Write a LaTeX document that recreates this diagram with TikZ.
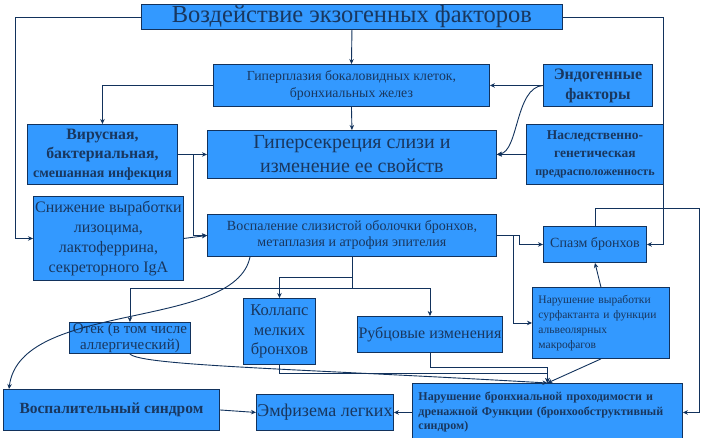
\documentclass[tikz,border=0pt]{standalone}
\usepackage{fontspec}
\setmainfont{Liberation Serif}
\usetikzlibrary{arrows.meta, calc}

\begin{document}
\begin{tikzpicture}[x=1pt, y=-1pt,
    box/.style={draw=navy, fill=boxblue, text=inknavy, line width=0.9pt, inner sep=0.5pt, align=center, anchor=north west},
    link/.style={navy, line width=0.9pt},
    arr/.style={link, -{Stealth[length=5pt, width=4.5pt]}}]

% Define colors - matching the reference image
\definecolor{boxblue}{RGB}{51,153,255}
\definecolor{navy}{RGB}{18,50,92}
\definecolor{inknavy}{RGB}{25,55,95}

\useasboundingbox (0,0) rectangle (703,437);

% Top row: exogenous factors and hyperplasia
\node[box, minimum width=421pt, minimum height=25pt, font=\fontsize{24.5}{26}\selectfont] (exo) at (141,4) {Воздействие экзогенных факторов};
\node[box, minimum width=276pt, minimum height=42pt, font=\fontsize{13.8}{16.5}\selectfont] (hyperpl) at (213,64) {Гиперплазия бокаловидных клеток,\\ бронхиальных желез};
\node[box, minimum width=109pt, minimum height=42pt, font=\bfseries\fontsize{16}{20}\selectfont] (endo) at (543,64) {Эндогенные\\ факторы};

% Second row: infection, hypersecretion, heredity
\node[box, minimum width=150pt, minimum height=60pt, font=\bfseries\fontsize{15.8}{19}\selectfont] (infect) at (27,124) {Вирусная,\\ бактериальная,\\ {\fontsize{14}{17}\selectfont смешанная инфекция}};
\node[box, minimum width=289pt, minimum height=48pt, font=\fontsize{20}{24}\selectfont] (hypersec) at (207,130) {Гиперсекреция слизи и\\ изменение ее свойств};
\node[box, minimum width=137pt, minimum height=60pt, font=\bfseries\fontsize{13.5}{18}\selectfont] (hered) at (526,124) {Наследственно-\\ генетическая\\ {\fontsize{12}{16}\selectfont предрасположенность}};

% Third row: lysozyme, inflammation, spasm
\node[box, minimum width=150pt, minimum height=84pt, font=\fontsize{16}{20}\selectfont] (lyso) at (33,196) {Снижение выработки\\ лизоцима,\\ лактоферрина,\\ секреторного IgA};
\node[box, minimum width=289pt, minimum height=42pt, font=\fontsize{14}{16}\selectfont] (inflam) at (207,214) {Воспаление слизистой оболочки бронхов,\\ метаплазия и атрофия эпителия};
\node[box, minimum width=103pt, minimum height=36pt, font=\fontsize{14}{17}\selectfont] (spasm) at (543,226) {Спазм бронхов};
\node[box, minimum width=137pt, minimum height=71pt, text width=125pt, inner xsep=6pt, align=left, font=\fontsize{11.5}{15}\selectfont] (surf) at (532,287) {Нарушение выработки\\ сурфактанта и функции\\ альвеолярных\\ макрофагов};

% Fourth row: edema, collapse, scars
\node[box, minimum width=121pt, minimum height=31pt, font=\fontsize{15}{16}\selectfont] (edema) at (69,322) {Отек (в том числе\\ аллергический)};
\node[box, minimum width=72pt, minimum height=66pt, font=\fontsize{16.5}{19.5}\selectfont] (collapse) at (243,298) {Коллапс\\ мелких\\ бронхов};
\node[box, minimum width=145pt, minimum height=36pt, font=\fontsize{16}{19}\selectfont] (scar) at (357,316) {Рубцовые изменения};

% Bottom row: outcomes
\node[box, minimum width=216pt, minimum height=41pt, font=\bfseries\fontsize{15.5}{19}\selectfont] (inflsyn) at (3,389) {Воспалительный синдром};
\node[box, minimum width=137pt, minimum height=36pt, font=\fontsize{18}{21}\selectfont] (emph) at (256,394) {Эмфизема легких};
\node[box, minimum width=270pt, minimum height=58pt, text width=258pt, inner xsep=6pt, align=left, font=\bfseries\fontsize{12}{14.5}\selectfont] (obstr) at (412,383) {Нарушение бронхиальной проходимости и\\ дренажной Функции (бронхообструктивный\\ синдром)};

% Connectors from the top
\draw[arr] (exo.south) -- (hyperpl.north);
\draw[arr] (hyperpl.south) -- (hypersec.north);
\draw[arr] (exo.west) -- ++(-126,0) |- (lyso.west);
\draw[arr] (exo.east) -- ++(101,0) |- (spasm.east);
\draw[arr] (hyperpl.west) -| (infect.north);
\draw[arr] (endo.west) -- (hyperpl.east);
\draw[arr] (endo.west) .. controls +(-28,2) and +(22,-3) .. (hypersec.east);
\draw[arr] (hered.west) -- (hypersec.east);
\draw[arr] (infect.east) -- (hypersec.west);
\draw[arr] ($(infect.east)+(16,0)$) |- (inflam.west);
\draw[arr] (lyso.east) -- (inflam.west);

% Connectors from inflammation
\draw[arr] (inflam.east) -- ++(23,0) |- (spasm.west);
\draw[arr] ($(inflam.east)+(17,0)$) |- (surf.west);
\draw[arr] (inflam.south) -- ++(0,21) -| (collapse.north);
\draw[arr] (inflam.south) -- ++(0,32) -| (edema.north);
\draw[arr] (inflam.south) -- ++(0,32) -| (scar.north);
\draw[arr] ($(inflam.south west)+(43,0)$) .. controls +(-15,74) and +(11,-89) .. ($(inflsyn.north west)+(6,0)$);

% Connectors to obstruction and emphysema
\draw[arr] (surf.north) -- (spasm.south);
\draw[arr] (spasm.north) -- ++(0,-18) -- ++(104,0) |- (obstr.east);
\draw[arr] (surf.south) -- (obstr.north);
\draw[arr] (edema.south) .. controls +(10,12) and +(-240,-14) .. (obstr.north);
\draw[arr] (collapse.south) -- ++(0,9) -| (obstr.north);
\draw[arr] (scar.south) -- ++(0,15) -| (obstr.north);
\draw[arr] (obstr.west) -- (emph.east);
\draw[arr] (inflsyn.east) -- (emph.west);

\end{tikzpicture}
\end{document}
